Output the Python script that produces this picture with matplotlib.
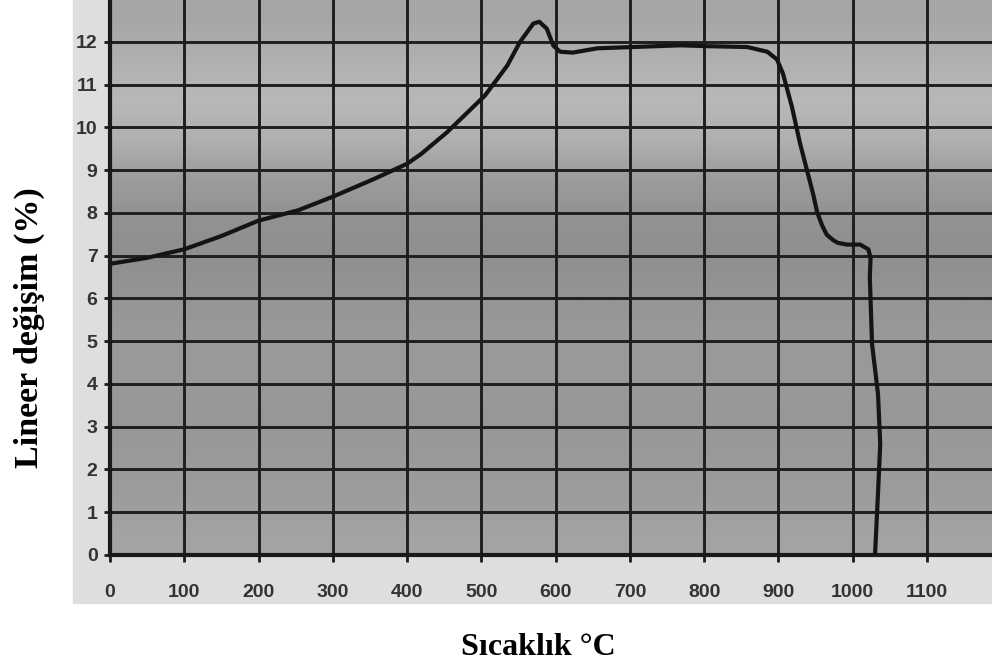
# -*- coding: utf-8 -*-
"""
Lineer değişim - sıcaklık eğrisi (taranmış grafik görünümü)
"""

import matplotlib
matplotlib.use("Agg")
import matplotlib.pyplot as plt
from matplotlib.patches import Rectangle
import numpy as np

# ============================================================
# Veri
# ============================================================
temp = [0, 50, 100, 150, 200, 253, 300, 355, 400, 419, 454, 505, 535, 552,
        570, 578, 588, 597, 606, 623, 656, 703, 768, 804, 858, 885, 898,
        906, 918, 929, 947, 952, 959, 965, 974, 980, 992, 1010, 1021, 1024,
        1023, 1026, 1034, 1037, 1034, 1030]
change = [6.81, 6.95, 7.15, 7.46, 7.82, 8.06, 8.38, 8.79, 9.15, 9.38, 9.89,
          10.75, 11.45, 12.0, 12.43, 12.47, 12.31, 11.91, 11.77, 11.75, 11.85,
          11.88, 11.92, 11.90, 11.88, 11.77, 11.59, 11.26, 10.49, 9.63, 8.42,
          8.02, 7.70, 7.49, 7.36, 7.30, 7.26, 7.26, 7.15, 6.95, 6.49, 4.93,
          3.77, 2.60, 1.44, 0.0]

x_ticks = list(range(0, 1101, 100))
y_ticks = list(range(0, 13))

x_max = 1187.5
y_max = 12.98

# kağıt tonu (aşağıdan yukarı)
paper_shade = [0.64, 0.61, 0.60, 0.59, 0.60, 0.60, 0.58, 0.56, 0.57, 0.61,
               0.69, 0.72, 0.69, 0.65]

# ============================================================
# Çizim
# ============================================================
fig = plt.figure(figsize=(9.92, 6.66), dpi=100)
fig.patches.append(Rectangle((0.0736, 0.0946), 1 - 0.0736, 1 - 0.0946,
                             transform=fig.transFigure, color="#dedede",
                             zorder=-1))

ax = fig.add_axes([0.1109, 0.1667, 0.8891, 0.8333])
ax.set_zorder(1)
ax.imshow(np.array(paper_shade)[:, None], extent=[0, x_max, 0, y_max],
          aspect="auto", cmap="gray", vmin=0, vmax=1, origin="lower",
          interpolation="bilinear", zorder=0)

ax.plot(temp, change, color="#141414", lw=3.0, solid_joinstyle="round",
        solid_capstyle="round", zorder=3)

ax.set_xlim(0, x_max)
ax.set_ylim(0, y_max)
ax.set_xticks(x_ticks)
ax.set_yticks(y_ticks)
ax.grid(True, color="#1e1e1e", lw=2.1)

for side in ("top", "right"):
    ax.spines[side].set_visible(False)
for side in ("left", "bottom"):
    ax.spines[side].set_linewidth(3.0)
    ax.spines[side].set_color("#1a1a1a")

ax.tick_params(axis="x", length=5, width=2, pad=16, color="#1a1a1a",
               labelcolor="#333333", labelsize=14)
ax.tick_params(axis="y", length=4, width=2, pad=5, color="#1a1a1a",
               labelcolor="#333333", labelsize=14)
for lab in ax.get_xticklabels() + ax.get_yticklabels():
    lab.set_fontfamily("Liberation Sans")
    lab.set_fontweight("bold")

fig.text(0.543, 0.017, "Sıcaklık °C", fontfamily="Liberation Serif",
         fontweight="bold", fontsize=23, ha="center", va="baseline")
fig.text(0.030, 0.508, "Lineer değişim (%)", fontfamily="Liberation Serif",
         fontweight="bold", fontsize=24.5, rotation=90, ha="center",
         va="center")

fig.savefig("out.png", dpi=100)
plt.close(fig)
